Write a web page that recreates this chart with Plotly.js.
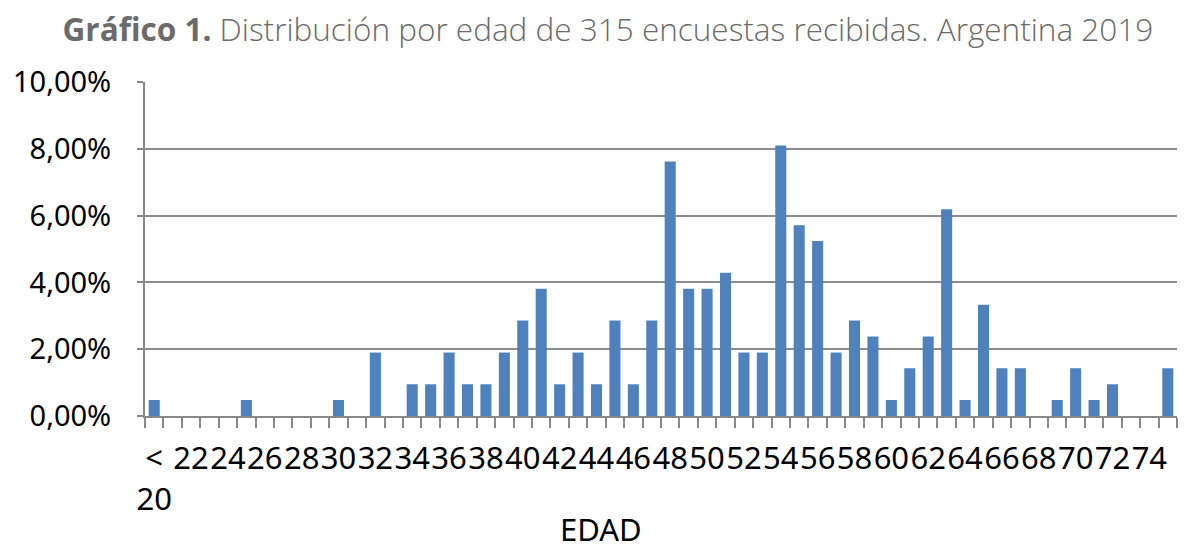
<!DOCTYPE html>
<html>
<head>
<meta charset="utf-8">
<script src="https://cdn.plot.ly/plotly-3.0.1.min.js"></script>
<style>html,body{margin:0;padding:0;background:#fff;}#chart{width:1199px;height:551px;}</style>
</head>
<body>
<div id="chart"></div>
<script>
const categories = ["< 20","21","22","23","24","25","26","27","28","29","30","31","32","33","34","35","36","37","38","39","40","41","42","43","44","45","46","47","48","49","50","51","52","53","54","55","56","57","58","59","60","61","62","63","64","65","66","67","68","69","70","71","72","73","74","75"];
const percentages = [0.48,0,0,0,0,0.48,0,0,0,0,0.48,0,1.90,0,0.95,0.95,1.90,0.95,0.95,1.90,2.86,3.81,0.95,1.90,0.95,2.86,0.95,2.86,7.62,3.81,3.81,4.29,1.90,1.90,8.10,5.71,5.24,1.90,2.86,2.38,0.48,1.43,2.38,6.19,0.48,3.33,1.43,1.43,0,0.48,1.43,0.48,0.95,0,0,1.43];
const xTickLabels = ["&lt;<br>20","","22","","24","","26","","28","","30","","32","","34","","36","","38","","40","","42","","44","","46","","48","","50","","52","","54","","56","","58","","60","","62","","64","","66","","68","","70","","72","","74",""];
const yTickValues = [0, 2, 4, 6, 8, 10];
const yTickLabels = ["0,00%", "2,00%", "4,00%", "6,00%", "8,00%", "10,00%"];
const titleBold = "Gráfico 1.";
const titleRest = " Distribución por edad de 315 encuestas recibidas. Argentina 2019";
const xTitle = "EDAD";

const trace = {
  type: "bar",
  x: categories,
  y: percentages,
  marker: {color: "#4F81BD", line: {width: 0}},
  width: 0.6,
  hovertemplate: "%{x}: %{y:.2f}%<extra></extra>"
};

const layout = {
  width: 1199, height: 551,
  margin: {l: 145, r: 22, t: 82, b: 135},
  paper_bgcolor: "#ffffff", plot_bgcolor: "#ffffff",
  separators: ",.",
  showlegend: false,
  title: {
    text: "<b>" + titleBold + "</b>" + titleRest,
    x: 0.507, xanchor: "center", y: 0.945, yanchor: "middle",
    font: {family: "Open Sans, sans-serif", size: 31.5, weight: 300, color: "#6b6b6b"}
  },
  xaxis: {
    type: "category",
    range: [-0.5, 55.5],
    tickmode: "array",
    tickvals: categories,
    ticktext: xTickLabels,
    tickangle: 0,
    ticks: "outside", tickson: "boundaries", ticklen: 10, tickwidth: 2, tickcolor: "#888888",
    showline: true, linecolor: "#888888", linewidth: 2,
    showgrid: false, zeroline: false,
    tickfont: {family: "Noto Sans, sans-serif", size: 31, color: "#000000"},
    ticklabelstandoff: 14,
    fixedrange: true
  },
  yaxis: {
    range: [0, 10],
    tickmode: "array",
    tickvals: yTickValues,
    ticktext: yTickLabels,
    ticks: "outside", ticklen: 6, tickwidth: 2, tickcolor: "#888888",
    showline: true, linecolor: "#888888", linewidth: 2,
    showgrid: true, gridcolor: "#8c8c8c", gridwidth: 2,
    zeroline: false,
    tickfont: {family: "Noto Sans, sans-serif", size: 29, color: "#000000"},
    ticklabelstandoff: 20,
    fixedrange: true
  },
  annotations: [{
    text: xTitle, xref: "paper", yref: "paper",
    x: (601 - 145) / 1032, y: -(529 - 416) / 334,
    xanchor: "center", yanchor: "middle", showarrow: false,
    font: {family: "Noto Sans, sans-serif", size: 31, color: "#000000"}
  }]
};

Plotly.newPlot("chart", [trace], layout, {displayModeBar: false, staticPlot: true});
</script>
</body>
</html>
